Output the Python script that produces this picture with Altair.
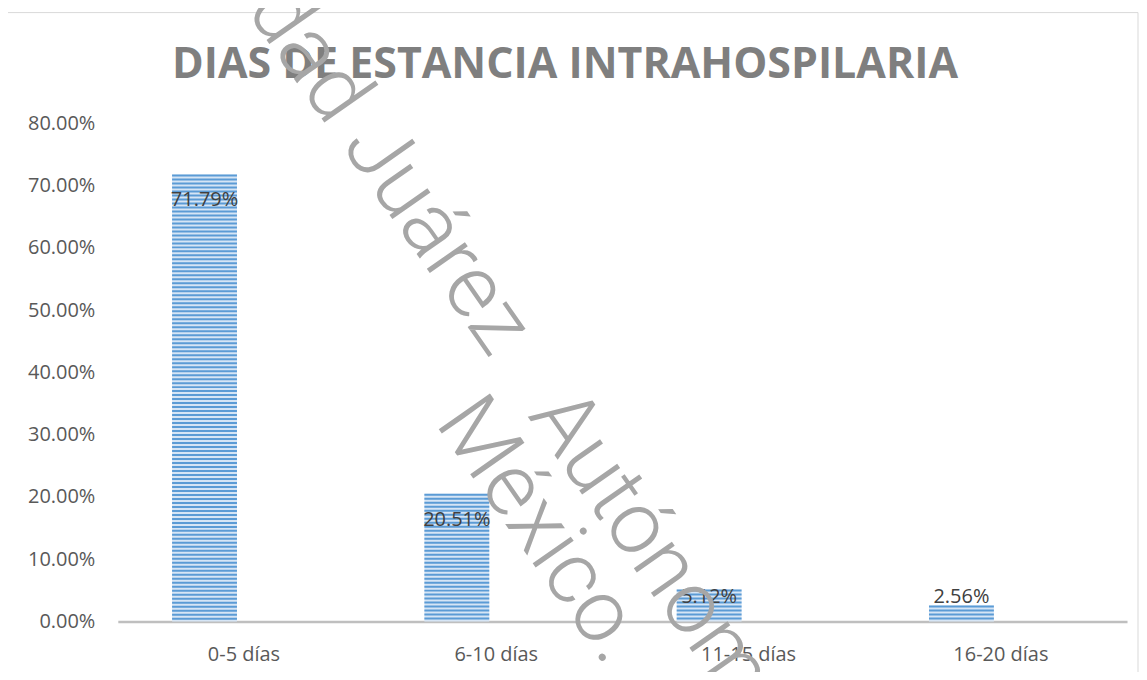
import altair as alt
import pandas as pd

# ---- data ----
categories = ["0-5 días", "6-10 días", "11-15 días", "16-20 días"]
values = [0.7179, 0.2051, 0.0512, 0.0256]
y_ticks = [0.0, 0.1, 0.2, 0.3, 0.4, 0.5, 0.6, 0.7, 0.8]
title_text = ["DIAS DE ESTANCIA INTRAHOSPILARIA"]
watermark_1a = "Universidad Juárez"
watermark_1b = "Autónoma de Tabasco."
watermark_2 = "México."

df = pd.DataFrame({"cat": categories, "pct": values})

W, H = 1011, 499
FONT = "Open Sans"
BAR_W = 65
BAR_OFF = -39.5

x_enc = alt.X(
    "cat:N",
    sort=categories,
    scale=alt.Scale(paddingInner=0, paddingOuter=0),
    axis=alt.Axis(
        title=None, labelAngle=0, domainColor="#bfbfbf", domainWidth=2.5,
        ticks=False, tickSize=0, labelFontSize=20, labelFont=FONT,
        labelColor="#595959", labelPadding=23, grid=False,
    ),
)
y_enc = alt.Y(
    "pct:Q",
    scale=alt.Scale(domain=[0, 0.8], nice=False),
    axis=alt.Axis(
        title=None, values=y_ticks, format=".2%", domain=False, ticks=False,
        tickSize=0, grid=False, labelPadding=23, labelFontSize=20,
        labelFont=FONT, labelColor="#595959",
    ),
)

base = alt.Chart(df)

bar_bg = base.mark_bar(width=BAR_W, xOffset=BAR_OFF, color="#d6e5f5").encode(
    x=x_enc, y=y_enc, y2=alt.datum(0)
)
stripes = base.mark_rule(
    strokeWidth=BAR_W, strokeDash=[2, 2], strokeCap="butt",
    color="#5b9bd5", xOffset=BAR_OFF,
).encode(x=alt.X("cat:N", sort=categories), y="pct:Q", y2=alt.datum(0))

labels = base.transform_calculate(
    ly="max(datum.pct - 0.0417, 0.040)"
).mark_text(
    xOffset=BAR_OFF, baseline="middle", align="center",
    fontSize=20, font=FONT, color="#404040",
).encode(
    x=alt.X("cat:N", sort=categories), y="ly:Q",
    text=alt.Text("pct:Q", format=".2%"),
)

one = alt.Data(values=[{}])
frame = alt.Chart(one).mark_rect(fill="transparent", stroke="#d9d9d9", strokeWidth=1).encode(
    x=alt.value(-112), x2=alt.value(1022), y=alt.value(-111), y2=alt.value(600)
)

title = alt.Chart(alt.Data(values=[{"t": t} for t in title_text])).mark_text(
    font=FONT, fontSize=43, fontWeight="bold", color="#7f7f7f",
    align="center", baseline="middle",
).encode(x=alt.value(448), y=alt.value(-58), text="t:N")

wm_style = dict(angle=55, font="Roboto", fontWeight=300, fontSize=88,
                color="#a6a6a6", baseline="alphabetic")
wm1a = alt.Chart(one).mark_text(align="right", **wm_style).encode(
    x=alt.value(373), y=alt.value(236), text=alt.value(watermark_1a)
)
wm1b = alt.Chart(one).mark_text(align="left", **wm_style).encode(
    x=alt.value(410), y=alt.value(293), text=alt.value(watermark_1b)
)
wm2 = alt.Chart(one).mark_text(align="left", **wm_style).encode(
    x=alt.value(317), y=alt.value(300), text=alt.value(watermark_2)
)

chart = alt.layer(frame, title, bar_bg, stripes, labels, wm1a, wm1b, wm2).properties(
    width=W,
    height=H,
    background="white",
    autosize=alt.AutoSizeParams(type="none"),
    padding={"left": 110, "top": 115, "right": 12, "bottom": 50},
).configure_view(stroke="transparent", strokeWidth=0)

chart.save("out.html", embed_options={"renderer": "svg", "actions": False})
